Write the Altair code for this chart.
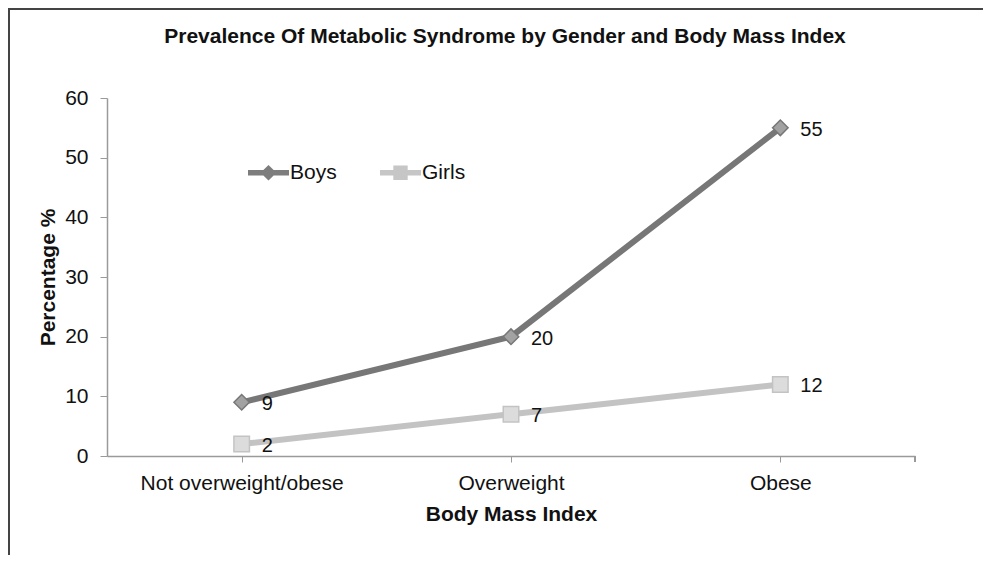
import altair as alt
import pandas as pd

categories = ["Not overweight/obese", "Overweight", "Obese"]
boys = [9, 20, 55]
girls = [2, 7, 12]
series = ["Boys", "Girls"]

rows = []
for c, b, g in zip(categories, boys, girls):
    rows.append({"bmi": c, "gender": "Boys", "value": b})
    rows.append({"bmi": c, "gender": "Girls", "value": g})
df = pd.DataFrame(rows)

W, H = 808, 358
PAD = {"left": 99, "top": 90, "right": 68, "bottom": 99}
FONT = "Liberation Sans"
FS = 21
line_colors = ["#777777", "#c3c3c3"]
fill_colors = ["#a2a2a2", "#dcdcdc"]
legend_colors = ["#7d7d7d", "#c6c6c6"]

boys_path = ("M-1,-0.13 L-0.25,-0.13 L0,-0.38 L0.25,-0.13 L1,-0.13 L1,0.13 "
             "L0.25,0.13 L0,0.38 L-0.25,0.13 L-1,0.13 Z")
girls_path = ("M-1,-0.13 L-0.35,-0.13 L-0.35,-0.35 L0.35,-0.35 L0.35,-0.13 L1,-0.13 "
              "L1,0.13 L0.35,0.13 L0.35,0.35 L-0.35,0.35 L-0.35,0.13 L-1,0.13 Z")

x_enc = alt.X(
    "bmi:N", sort=categories,
    scale=alt.Scale(paddingInner=0, paddingOuter=0),
    axis=alt.Axis(
        title="Body Mass Index", bandPosition=0, labelAngle=0, labelLimit=400,
        labelFontSize=FS, labelFont=FONT, labelColor="#111", labelPadding=10,
        tickSize=6, tickColor="#9a9a9a", domainColor="#9a9a9a", domainWidth=1.5,
        titleFont=FONT, titleFontSize=FS, titleFontWeight="bold", titleColor="#111",
        titleY=58, titleBaseline="middle", grid=False,
    ),
)
y_enc = alt.Y(
    "value:Q",
    scale=alt.Scale(domain=[0, 60], nice=False),
    axis=alt.Axis(
        title="Percentage %", values=[0, 10, 20, 30, 40, 50, 60],
        labelFontSize=FS, labelFont=FONT, labelColor="#111", labelPadding=12,
        tickSize=7, tickColor="#9a9a9a", domainColor="#9a9a9a", domainWidth=1.5,
        titleFont=FONT, titleFontSize=FS, titleFontWeight="bold", titleColor="#111",
        titleX=-59, titleY=H / 2, titleAngle=270, titleAlign="center",
        titleBaseline="middle", grid=False,
    ),
)

legend = alt.Legend(
    title=None, orient="none", direction="horizontal",
    legendX=141, legendY=54, symbolSize=1681, labelFontSize=FS,
    labelFont=FONT, labelColor="#111", labelOffset=1, columnPadding=43,
    symbolStrokeWidth=0, symbolOpacity=1,
)

base = alt.Chart(df).encode(x=x_enc, y=y_enc)

legend_layer = base.mark_point(filled=True, size=0, strokeWidth=0).encode(
    shape=alt.Shape("gender:N", scale=alt.Scale(domain=series, range=[boys_path, girls_path]), legend=legend),
    fill=alt.Fill("gender:N", scale=alt.Scale(domain=series, range=legend_colors), legend=legend),
)
lines = base.mark_line(strokeWidth=6).encode(
    stroke=alt.Stroke("gender:N", scale=alt.Scale(domain=series, range=line_colors), legend=None),
)
points = base.mark_point(filled=True, size=240, strokeWidth=1.5, opacity=1).encode(
    shape=alt.Shape("gender:N", scale=alt.Scale(domain=series, range=["diamond", "square"]), legend=None),
    fill=alt.Fill("gender:N", scale=alt.Scale(domain=series, range=fill_colors), legend=None),
    stroke=alt.Stroke("gender:N", legend=None),
)
labels = base.mark_text(align="left", baseline="middle", dx=20, dy=2, fontSize=20,
                        font=FONT, color="#111").encode(text="value:Q")

end_tick = alt.Chart(df).mark_rule(color="#9a9a9a", strokeWidth=1.5).encode(
    x=alt.value(W), y=alt.value(H), y2=alt.value(H + 6))
frame_top = alt.Chart(df).mark_rule(color="#444444", strokeWidth=2).encode(
    x=alt.value(-PAD["left"]), x2=alt.value(W + PAD["right"]), y=alt.value(-PAD["top"] + 1))
frame_left = alt.Chart(df).mark_rule(color="#444444", strokeWidth=2).encode(
    x=alt.value(-PAD["left"] + 1), y=alt.value(-PAD["top"]), y2=alt.value(H + PAD["bottom"]))

chart = alt.layer(frame_top, frame_left, end_tick, legend_layer, lines, points, labels).resolve_scale(
    shape="independent", fill="independent"
).properties(
    width=W, height=H,
    title=alt.TitleParams(
        "Prevalence Of Metabolic Syndrome by Gender and Body Mass Index",
        font=FONT, fontSize=FS, fontWeight="bold", color="#111",
        anchor="middle", offset=0, dy=40, dx=-6,
    ),
    autosize=alt.AutoSizeParams(type="none"),
    padding=PAD,
    background="white",
).configure_view(stroke=None)

chart.save("out.html", embed_options={"renderer": "svg", "actions": False})
